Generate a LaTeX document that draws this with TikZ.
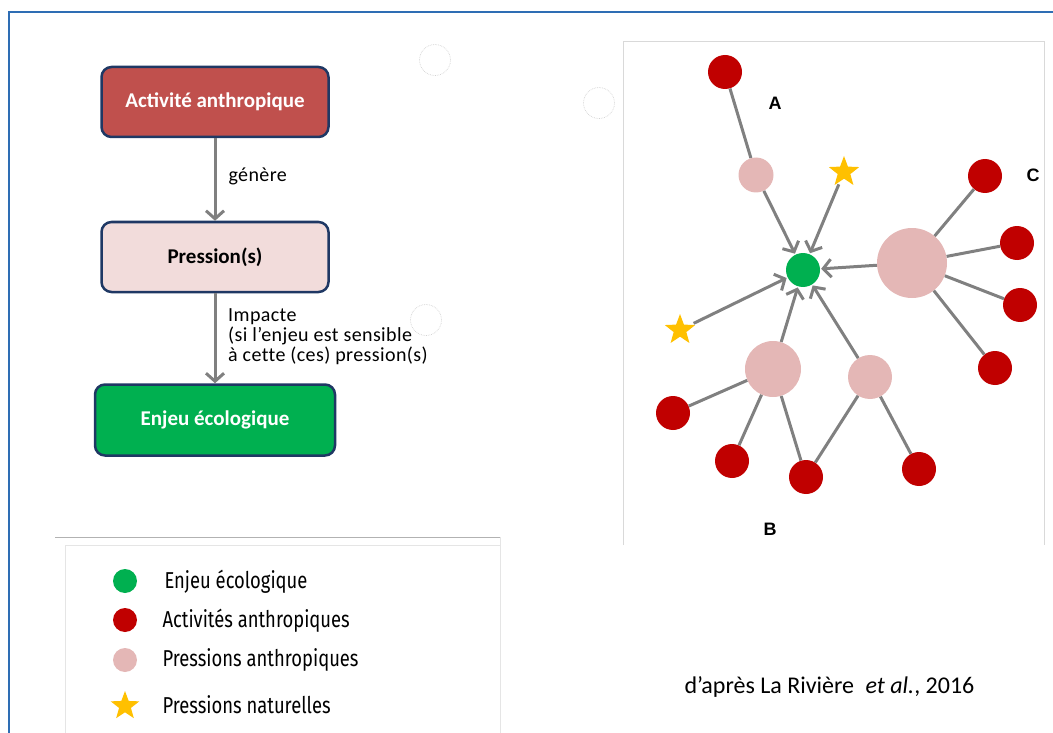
\documentclass[tikz,border=0pt]{standalone}
\usepackage{fontspec}
\setmainfont{Carlito}
\newfontfamily\labelfont[LetterSpace=2, Ligatures=NoCommon]{Carlito}
\newfontfamily\legendfont[FakeStretch=0.8]{Fira Sans}
\newfontfamily\lettrefont{Liberation Sans}
\usepackage{tikz}
\usetikzlibrary{shapes.geometric,arrows.meta}

\definecolor{rouge}{HTML}{C00000}
\definecolor{rose}{HTML}{E4B7B6}
\definecolor{vert}{HTML}{00B050}
\definecolor{jaune}{HTML}{FFC000}
\definecolor{grisfleche}{HTML}{808080}
\definecolor{brique}{HTML}{C0504D}
\definecolor{roseclair}{HTML}{F2DCDB}
\definecolor{marine}{HTML}{1F3864}
\definecolor{cadre}{HTML}{2E6DB4}

\begin{document}
\begin{tikzpicture}[x=1pt, y=-1pt]
        \tikzset{
            boite/.style={draw=marine, line width=2.5pt, rounded corners=10pt, minimum width=227pt, minimum height=70pt, font=\fontsize{21}{24}\selectfont\bfseries},
            act/.style={circle, fill=rouge, minimum size=34pt, inner sep=0pt},
            pres/.style={circle, fill=rose, inner sep=0pt},
            enjeu/.style={circle, fill=vert, minimum size=34pt, inner sep=0pt},
            nat/.style={star, star points=5, star point ratio=2.4, fill=jaune, minimum size=32pt, inner sep=0pt},
            lien/.style={draw=grisfleche, line width=3pt},
            fleche/.style={lien, -{Straight Barb[length=8pt, width=18pt]}, shorten >=1pt},
            rond/.style={draw=gray!35, densely dotted, line width=0.7pt, minimum size=31pt, circle, inner sep=0pt},
            lettre/.style={font=\lettrefont\fontsize{18}{20}\selectfont\bfseries},
            legende/.style={anchor=west, font=\legendfont\fontsize{23}{26}\selectfont}
        }
        \useasboundingbox (0,0) rectangle (1053,733);

        % cadre
        \draw[cadre, line width=1.5pt] (1053,12) -- (9,12) -- (9,733);
        \draw[gray!30, line width=1pt] (623,545) -- (623,42) -- (1044,42) -- (1044,545);

        % schema de gauche
        \node[boite, fill=brique, text=white] (activite) at (215,102) {Activité anthropique};
        \node[boite, fill=roseclair] (pression) at (215,257) {Pression(s)};
        \node[boite, fill=vert, text=white, minimum width=240pt, minimum height=71pt] (ecolo) at (215,420) {Enjeu écologique};

        \draw[fleche, shorten >=0pt] (activite) -- (pression);
        \draw[fleche, shorten >=0pt] (pression) -- (ecolo);
        \node[anchor=west, font=\labelfont\fontsize{20}{20}\selectfont] (genere) at (225,176) {génère};
        \node[anchor=north west, align=left, inner sep=0pt, font=\labelfont\fontsize{20}{20}\selectfont] (impacte) at (228,308)
            {Impacte\\(si l’enjeu est sensible\\à cette (ces) pression(s)};

        \node[rond] (r1) at (435,60) {};
        \node[rond] (r2) at (599,103) {};
        \node[rond] (r3) at (426,320) {};

        % reseau
        \node[enjeu] (E) at (803,270) {};
        \node[pres, minimum size=35pt] (PA) at (756,175) {};
        \node[pres, minimum size=70pt] (PC) at (912,263) {};
        \node[pres, minimum size=56pt] (PB1) at (773,369) {};
        \node[pres, minimum size=44pt] (PB2) at (870,377) {};
        \node[nat] (NT) at (844,172) {};
        \node[nat] (NL) at (680,330) {};

        \node[act] (AA) at (725,72) {};
        \node[act] (AC1) at (985,176) {};
        \node[act] (AC2) at (1017,243) {};
        \node[act] (AC3) at (1020,305) {};
        \node[act] (AC4) at (995,368) {};
        \node[act] (AB1) at (673,413) {};
        \node[act] (AB2) at (732,461) {};
        \node[act] (AB3) at (806,477) {};
        \node[act] (AB4) at (919,469) {};

        \node[lettre] (lA) at (775,103) {A};
        \node[lettre] (lB) at (770,529) {B};
        \node[lettre] (lC) at (1033,175) {C};

        \draw[lien] (AA) -- (PA);
        \foreach \a in {AC1,AC2,AC3,AC4}
            \draw[lien] (\a) -- (PC);
        \foreach \a in {AB1,AB2,AB3}
            \draw[lien] (\a) -- (PB1);
        \foreach \a in {AB3,AB4}
            \draw[lien] (\a) -- (PB2);
        \foreach \p in {PA,PC,PB1,PB2}
            \draw[fleche] (\p) -- (E);
        \draw[fleche, shorten <=3pt] (NT) -- (E);
        \draw[fleche, shorten <=3pt] (NL) -- (E);

        % legende
        \draw[gray!60, line width=1pt] (55,537) -- (500,537);
        \draw[gray!20, line width=1pt] (65,733) -- (65,545) -- (500,545);
        \draw[gray!20, line width=1pt] (500,537) -- (500,733);
        \node[enjeu, minimum size=24pt] (legE) at (125,581) {};
        \node[act, minimum size=24pt] (legA) at (125,620) {};
        \node[pres, minimum size=24pt] (legP) at (125,660) {};
        \node[nat, minimum size=30pt] (legN) at (125,706) {};
        \node[legende] (txtE) at (161,582) {Enjeu écologique};
        \node[legende] (txtA) at (159,621) {Activités anthropiques};
        \node[legende] (txtP) at (159,660) {Pressions anthropiques};
        \node[legende] (txtN) at (159,705) {Pressions naturelles};

        \node[anchor=west, font=\fontsize{24}{27}\selectfont] (source) at (681,687) {d’après La Rivière\hspace{0.25em} \textit{et al.}, 2016};
\end{tikzpicture}
\end{document}
